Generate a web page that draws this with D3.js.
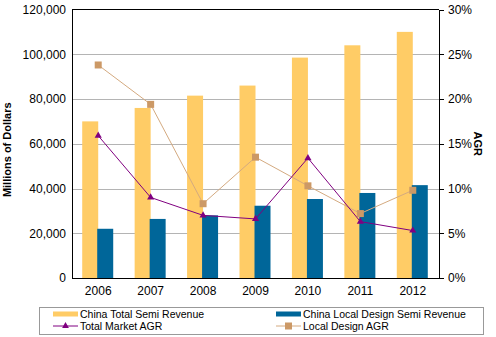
<!DOCTYPE html>
<html>
<head>
<meta charset="utf-8">
<script src="https://cdn.jsdelivr.net/npm/d3@7/dist/d3.min.js"></script>
<style>
  html, body { margin: 0; padding: 0; background: #fff; }
  svg { display: block; font-family: "Liberation Sans", Arial, sans-serif; }
  .axis path, .axis line { stroke: #000; shape-rendering: crispEdges; }
  .axis text { font-size: 12px; fill: #000; }
  .grid line { stroke: #b4b4b4; shape-rendering: crispEdges; }
</style>
</head>
<body>
<div id="main"></div>
<script>
!(function () {
  'use strict';
  // - - - - - - - - - -

  // data
  const years = ['2006', '2007', '2008', '2009', '2010', '2011', '2012'];
  const totalRevenue = [70000, 76000, 81500, 86000, 98500, 104000, 110000];
  const localRevenue = [22000, 26400, 28000, 32300, 35300, 38000, 41500];
  const totalAgr = [0.159, 0.090, 0.070, 0.066, 0.134, 0.063, 0.053];
  const localAgr = [0.238, 0.194, 0.083, 0.135, 0.103, 0.072, 0.098];
  const revenueTicks = [0, 20000, 40000, 60000, 80000, 100000, 120000];
  const agrTicks = [0, 0.05, 0.10, 0.15, 0.20, 0.25, 0.30];

  // declaration
  let
    svg = undefined,
    canvas = {},
    color = {},
    xScale = undefined,
    xInner = undefined,
    yScale = undefined,
    y2Scale = undefined;

  // configuration
  canvas = {
    context: '#main',
    width: 496,
    height: 337,
    plot: { left: 72, right: 439, top: 9.5, bottom: 278 }
  };
  color = {
    total: '#ffcc66',
    local: '#006699',
    totalLine: '#800080',
    localLine: '#d4aa80',
    localMark: '#cc9966'
  };

  // methods
  function setCanvas() {
    svg = d3.select(canvas.context)
      .append('svg')
      .attr('width', canvas.width)
      .attr('height', canvas.height)
      .attr('viewBox', '0 0 ' + canvas.width + ' ' + canvas.height);

    svg.append('rect')
      .attr('width', canvas.width)
      .attr('height', canvas.height)
      .attr('fill', '#fff');
  }

  function setScales() {
    const p = canvas.plot;
    xScale = d3.scaleBand().domain(years).range([p.left, p.right]);
    xInner = d3.scaleBand().domain(['total', 'local']).range([-16, 16]);
    yScale = d3.scaleLinear().domain([0, 120000]).range([p.bottom, p.top]);
    y2Scale = d3.scaleLinear().domain([0, 0.30]).range([p.bottom, p.top]);
  }

  function setGrid() {
    const p = canvas.plot;
    svg.append('g')
      .attr('class', 'grid')
      .selectAll('line')
      .data(revenueTicks.slice(1, -1))
      .join('line')
      .attr('x1', p.left)
      .attr('x2', p.right)
      .attr('y1', d => Math.round(yScale(d)) + 0.5)
      .attr('y2', d => Math.round(yScale(d)) + 0.5);

    // top border of the plot
    svg.append('line')
      .attr('x1', p.left).attr('x2', p.right)
      .attr('y1', yScale(120000)).attr('y2', yScale(120000))
      .attr('stroke', '#000')
      .attr('shape-rendering', 'crispEdges');
  }

  function setBars() {
    const cx = d => xScale(d) + xScale.bandwidth() / 2;

    svg.append('g')
      .selectAll('rect')
      .data(years)
      .join('rect')
      .attr('x', (d, i) => cx(d) + xInner('total'))
      .attr('y', (d, i) => yScale(totalRevenue[i]))
      .attr('width', xInner.bandwidth())
      .attr('height', (d, i) => yScale(0) - yScale(totalRevenue[i]))
      .attr('fill', color.total);

    svg.append('g')
      .selectAll('rect')
      .data(years)
      .join('rect')
      .attr('x', (d, i) => cx(d) + xInner('local') - 1)
      .attr('y', (d, i) => yScale(localRevenue[i]))
      .attr('width', xInner.bandwidth())
      .attr('height', (d, i) => yScale(0) - yScale(localRevenue[i]))
      .attr('fill', color.local);
  }

  function setLines() {
    const cx = d => xScale(d) + xScale.bandwidth() / 2;
    const line = d3.line()
      .x(d => cx(d.year))
      .y(d => y2Scale(d.value));

    const localData = years.map((y, i) => ({ year: y, value: localAgr[i] }));
    const totalData = years.map((y, i) => ({ year: y, value: totalAgr[i] }));

    svg.append('path')
      .datum(localData)
      .attr('d', line)
      .attr('fill', 'none')
      .attr('stroke', color.localLine)
      .attr('stroke-width', 1);

    svg.append('g')
      .selectAll('rect')
      .data(localData)
      .join('rect')
      .attr('x', d => cx(d.year) - 3.5)
      .attr('y', d => y2Scale(d.value) - 3.5)
      .attr('width', 7)
      .attr('height', 7)
      .attr('fill', color.localMark);

    svg.append('path')
      .datum(totalData)
      .attr('d', line)
      .attr('fill', 'none')
      .attr('stroke', color.totalLine)
      .attr('stroke-width', 1);

    svg.append('g')
      .selectAll('path')
      .data(totalData)
      .join('path')
      .attr('d', d3.symbol(d3.symbolTriangle, 22))
      .attr('transform', d => 'translate(' + cx(d.year) + ',' + y2Scale(d.value) + ')')
      .attr('fill', color.totalLine);
  }

  function setAxes() {
    const p = canvas.plot;

    svg.append('g')
      .attr('class', 'axis')
      .attr('transform', 'translate(' + p.left + ',0)')
      .call(d3.axisLeft(yScale)
        .tickValues(revenueTicks)
        .tickFormat(d3.format(','))
        .tickSize(0)
        .tickPadding(6))
      .call(g => g.select('.domain').attr('d', 'M0.5,' + p.top + 'V' + p.bottom));

    svg.append('g')
      .attr('class', 'axis')
      .attr('transform', 'translate(' + p.right + ',0)')
      .call(d3.axisRight(y2Scale)
        .tickValues(agrTicks)
        .tickFormat(d3.format('.0%'))
        .tickSize(5)
        .tickPadding(4))
      .call(g => g.select('.domain').attr('d', 'M0.5,' + p.top + 'V' + p.bottom));

    svg.append('g')
      .attr('class', 'axis')
      .attr('transform', 'translate(0,' + p.bottom + ')')
      .call(d3.axisBottom(xScale).tickSize(0).tickPadding(8))
      .call(g => g.select('.domain').attr('d', 'M' + p.left + ',0.5H' + p.right));

    svg.append('text')
      .attr('transform', 'translate(11,' + ((p.top + p.bottom) / 2 + 6) + ') rotate(-90)')
      .attr('text-anchor', 'middle')
      .attr('font-size', 11)
      .attr('font-weight', 'bold')
      .text('Millions of Dollars');

    svg.append('text')
      .attr('transform', 'translate(474,' + ((p.top + p.bottom) / 2) + ') rotate(90)')
      .attr('text-anchor', 'middle')
      .attr('font-size', 11)
      .attr('font-weight', 'bold')
      .text('AGR');
  }

  function setLegend() {
    const g = svg.append('g').attr('font-size', 10.5);

    g.append('rect')
      .attr('x', 39.5).attr('y', 307.5)
      .attr('width', 444).attr('height', 27)
      .attr('fill', '#fff')
      .attr('stroke', '#999');

    const items = [
      { label: 'China Total Semi Revenue', x: 53, y: 314, kind: 'bar', fill: color.total },
      { label: 'China Local Design Semi Revenue', x: 276, y: 314, kind: 'bar', fill: color.local },
      { label: 'Total Market AGR', x: 53, y: 326, kind: 'tri', fill: color.totalLine },
      { label: 'Local Design AGR', x: 276, y: 326, kind: 'sq', fill: color.localMark }
    ];

    items.forEach(d => {
      if (d.kind === 'bar') {
        g.append('rect')
          .attr('x', d.x).attr('y', d.y - 2.5)
          .attr('width', 25).attr('height', 5)
          .attr('fill', d.fill);
      } else {
        g.append('line')
          .attr('x1', d.x).attr('x2', d.x + 25)
          .attr('y1', d.y).attr('y2', d.y)
          .attr('stroke', d.kind === 'tri' ? color.totalLine : color.localLine)
          .attr('stroke-width', 1);
        if (d.kind === 'tri') {
          g.append('path')
            .attr('d', d3.symbol(d3.symbolTriangle, 20))
            .attr('transform', 'translate(' + (d.x + 12.5) + ',' + d.y + ')')
            .attr('fill', d.fill);
        } else {
          g.append('rect')
            .attr('x', d.x + 9).attr('y', d.y - 3.5)
            .attr('width', 7).attr('height', 7)
            .attr('fill', d.fill);
        }
      }
      g.append('text')
        .attr('x', d.x + 27)
        .attr('y', d.y)
        .attr('dy', '0.35em')
        .text(d.label);
    });
  }

  // control
  setCanvas();
  setScales();
  setGrid();
  setBars();
  setLines();
  setAxes();
  setLegend();

  // - - - - - - - - - -
}());
</script>
</body>
</html>
